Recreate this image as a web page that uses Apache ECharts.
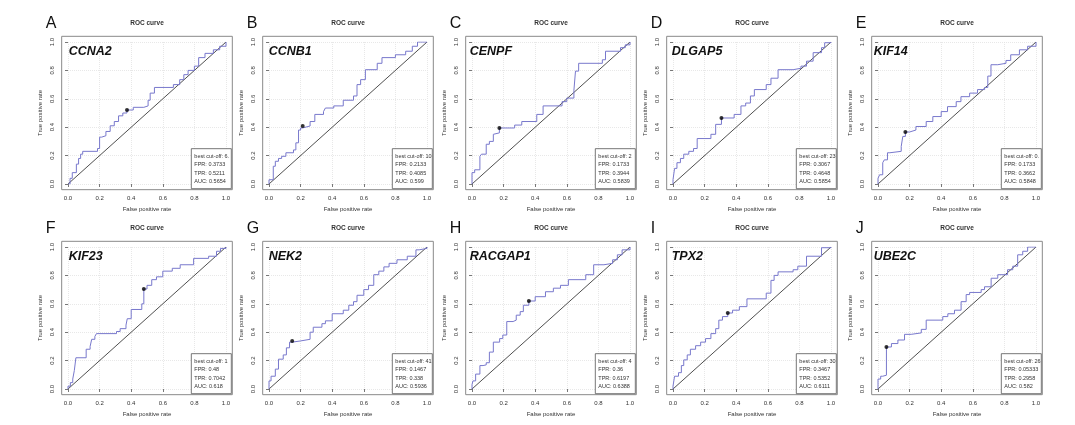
<!DOCTYPE html>
<html><head><meta charset="utf-8">
<script src="https://cdn.jsdelivr.net/npm/echarts@6/dist/echarts.min.js"></script>
<style>html,body{margin:0;padding:0;background:#fff}#c{width:1075px;height:425px}</style>
</head><body><div id="c"></div><script>
// ---------- data ----------
const panelLetters = ['A','B','C','D','E','F','G','H','I','J'];
const genes = ['CCNA2','CCNB1','CENPF','DLGAP5','KIF14','KIF23','NEK2','RACGAP1','TPX2','UBE2C'];
const cutoffLabels = ['6.4','10','2','23','0.9','1','41','4','30','26'];
const bestFPR = [0.3733,0.2133,0.1733,0.3067,0.1733,0.48,0.1467,0.36,0.3467,0.05333];
const bestTPR = [0.5211,0.4085,0.3944,0.4648,0.3662,0.7042,0.338,0.6197,0.5352,0.2958];
const aucValues = [0.5654,0.599,0.5839,0.5854,0.5848,0.618,0.5936,0.6388,0.6111,0.582];
const tickValues = [0,0.2,0.4,0.6,0.8,1.0];
const diagonal = [0,1];

const CCNA2_fpr = [0,0.013,0.027,0.053,0.067,0.08,0.093,0.187,0.2,0.213,0.24,0.267,0.293,0.32,0.347,0.3733,0.413,0.48,0.507,0.52,0.547,0.667,0.707,0.733,0.76,0.8,0.827,0.867,0.92,0.96,1.0];
const CCNA2_tpr = [0,0.04,0.08,0.14,0.18,0.21,0.23,0.25,0.33,0.34,0.37,0.41,0.44,0.48,0.5,0.5211,0.54,0.55,0.59,0.64,0.68,0.70,0.735,0.77,0.80,0.83,0.89,0.92,0.945,0.97,1.0];

const CCNB1_fpr = [0,0,0.027,0.04,0.06,0.08,0.107,0.155,0.17,0.187,0.2,0.2133,0.26,0.29,0.345,0.357,0.41,0.47,0.535,0.557,0.58,0.61,0.685,0.715,0.8,0.865,0.907,0.94,1.0];
const CCNB1_tpr = [0,0.03,0.125,0.16,0.18,0.195,0.22,0.24,0.29,0.38,0.395,0.4085,0.44,0.49,0.51,0.535,0.55,0.59,0.62,0.70,0.735,0.805,0.85,0.89,0.91,0.935,0.97,1.0,1.0];

const CENPF_fpr = [0,0,0.017,0.05,0.06,0.09,0.11,0.135,0.145,0.1733,0.27,0.315,0.41,0.45,0.57,0.6,0.645,0.655,0.675,0.825,0.845,0.94,0.97,1.0];
const CENPF_tpr = [0,0.08,0.1,0.195,0.21,0.28,0.30,0.35,0.36,0.3944,0.415,0.44,0.49,0.55,0.58,0.605,0.66,0.795,0.85,0.875,0.935,0.96,0.98,1.0];

const DLGAP5_fpr = [0,0,0.01,0.025,0.047,0.068,0.1,0.13,0.153,0.24,0.27,0.3067,0.387,0.43,0.46,0.49,0.515,0.59,0.62,0.665,0.76,0.81,0.845,0.887,0.94,0.96,1.0];
const DLGAP5_tpr = [0,0.03,0.11,0.15,0.18,0.21,0.23,0.25,0.32,0.35,0.42,0.4648,0.49,0.55,0.57,0.62,0.665,0.70,0.745,0.805,0.815,0.83,0.865,0.925,0.96,0.995,1.0];

const KIF14_fpr = [0,0,0.01,0.03,0.04,0.06,0.075,0.147,0.157,0.1733,0.2,0.24,0.305,0.347,0.4,0.44,0.495,0.525,0.58,0.63,0.675,0.695,0.715,0.758,0.81,0.84,0.895,0.947,1.0];
const KIF14_tpr = [0,0.04,0.065,0.15,0.17,0.22,0.23,0.265,0.335,0.3662,0.38,0.405,0.44,0.475,0.51,0.545,0.58,0.615,0.64,0.665,0.68,0.76,0.84,0.85,0.87,0.91,0.945,0.97,1.0];

const KIF23_fpr = [0,0,0.015,0.03,0.04,0.05,0.115,0.14,0.15,0.17,0.18,0.307,0.33,0.367,0.375,0.4,0.467,0.48,0.5,0.53,0.56,0.6,0.66,0.71,0.795,0.89,0.94,0.965,1.0];
const KIF23_tpr = [0,0.02,0.045,0.07,0.13,0.22,0.28,0.30,0.35,0.37,0.39,0.405,0.425,0.45,0.495,0.56,0.60,0.7042,0.73,0.77,0.79,0.83,0.85,0.875,0.92,0.935,0.97,0.99,1.0];

const NEK2_fpr = [0,0,0.013,0.04,0.06,0.09,0.11,0.13,0.1467,0.197,0.26,0.28,0.335,0.357,0.4,0.47,0.505,0.535,0.557,0.6,0.63,0.663,0.695,0.727,0.76,0.81,0.875,0.93,0.95,1.0];
const NEK2_tpr = [0,0.057,0.09,0.14,0.21,0.24,0.29,0.33,0.338,0.35,0.40,0.435,0.46,0.48,0.53,0.555,0.59,0.615,0.66,0.70,0.73,0.805,0.83,0.86,0.885,0.91,0.935,0.98,0.99,1.0];

const RACGAP1_fpr = [0,0,0.006,0.023,0.05,0.07,0.09,0.11,0.135,0.175,0.195,0.22,0.26,0.28,0.305,0.325,0.36,0.4,0.465,0.515,0.56,0.61,0.72,0.77,0.835,0.89,0.92,0.95,1.0];
const RACGAP1_tpr = [0,0.03,0.057,0.105,0.165,0.17,0.185,0.26,0.33,0.355,0.38,0.475,0.485,0.52,0.545,0.59,0.6197,0.65,0.685,0.71,0.73,0.77,0.805,0.875,0.885,0.91,0.945,0.98,1.0];

const TPX2_fpr = [0,0,0.01,0.035,0.053,0.068,0.09,0.11,0.143,0.175,0.206,0.24,0.27,0.29,0.313,0.3467,0.377,0.42,0.468,0.59,0.62,0.64,0.665,0.76,0.79,0.845,0.94,1.0];
const TPX2_tpr = [0,0.02,0.09,0.115,0.165,0.205,0.24,0.28,0.305,0.33,0.355,0.39,0.425,0.485,0.51,0.5352,0.555,0.58,0.635,0.675,0.765,0.80,0.825,0.84,0.865,0.935,0.995,1.0];

const UBE2C_fpr = [0,0,0.017,0.03,0.05333,0.085,0.126,0.168,0.21,0.274,0.305,0.41,0.442,0.484,0.526,0.558,0.58,0.653,0.674,0.716,0.758,0.82,0.853,0.884,0.916,0.947,1.0];
const UBE2C_tpr = [0,0.07,0.09,0.097,0.2958,0.32,0.345,0.385,0.395,0.42,0.485,0.51,0.53,0.555,0.615,0.665,0.68,0.70,0.72,0.78,0.805,0.84,0.865,0.945,0.97,1.0,1.0];

const curveFPR = [CCNA2_fpr,CCNB1_fpr,CENPF_fpr,DLGAP5_fpr,KIF14_fpr,KIF23_fpr,NEK2_fpr,RACGAP1_fpr,TPX2_fpr,UBE2C_fpr];
const curveTPR = [CCNA2_tpr,CCNB1_tpr,CENPF_tpr,DLGAP5_tpr,KIF14_tpr,KIF23_tpr,NEK2_tpr,RACGAP1_tpr,TPX2_tpr,UBE2C_tpr];

// ---------- layout ----------
const colLeft = [68, 269, 472, 673, 878];
const rowTop = [42, 247];
const DW = 158, DH = 142;
const padX = DW * 0.04, padY = DH * 0.04;
const geneOffset = [7, 6, 4, 5, 2];
const FONT = 'Liberation Sans, Arial, sans-serif';
const curveColor = '#7878cc';

const grids = [], xAxes = [], yAxes = [], series = [], graphics = [];
for (let i = 0; i < 10; i++) {
  const r = Math.floor(i / 5), c = i % 5;
  const L = colLeft[c], T = rowTop[r];
  grids.push({left: L, top: T, width: DW, height: DH, show: false});
  const axisCommon = {
    min: 0, max: 1, interval: 0.2, gridIndex: i,
    axisLine: {show: false},
    axisTick: {show: true, inside: false, length: 3, lineStyle: {color: '#555', width: 0.8}},
    axisLabel: {fontSize: 6, color: '#333', fontFamily: FONT, margin: 6, formatter: v => v.toFixed(1)},
    splitLine: {show: true, lineStyle: {color: '#e2e2e2', type: [1, 1], width: 0.8}},
    nameLocation: 'middle',
    nameTextStyle: {fontSize: 6, color: '#333', fontFamily: FONT}
  };
  xAxes.push(Object.assign({}, axisCommon, {type: 'value', position: 'bottom', offset: padY, name: 'False positive rate', nameGap: 17}));
  yAxes.push(Object.assign({}, axisCommon, {type: 'value', position: 'left', offset: padX, name: 'True positive rate', nameGap: 18,
    axisLabel: Object.assign({}, axisCommon.axisLabel, {rotate: 90, margin: 6})}));

  const pts = curveFPR[i].map((x, k) => [x, curveTPR[i][k]]);
  series.push({type: 'line', xAxisIndex: i, yAxisIndex: i, data: [[diagonal[0], diagonal[0]], [diagonal[1], diagonal[1]]],
    symbol: 'none', silent: true, lineStyle: {color: '#222', width: 0.8}, z: 2});
  series.push({type: 'line', xAxisIndex: i, yAxisIndex: i, data: pts, step: 'end', symbol: 'none',
    lineStyle: {color: curveColor, width: 1}, z: 3});
  series.push({type: 'scatter', xAxisIndex: i, yAxisIndex: i, data: [[bestFPR[i], bestTPR[i]]], symbolSize: 4,
    itemStyle: {color: '#000'}, z: 4});

  // frame
  const fL = L - padX, fT = T - padY, fW = DW + 2 * padX, fH = DH + 2 * padY;
  graphics.push({type: 'rect', shape: {x: fL, y: fT, width: fW, height: fH}, style: {fill: 'none', stroke: '#8a8a8a', lineWidth: 1}, z: 10});
  // title
  graphics.push({type: 'text', x: fL + fW / 2, y: fT - 13, style: {text: 'ROC curve', font: 'bold 6.5px ' + FONT, fill: '#333', align: 'center', verticalAlign: 'middle'}});
  // panel letter
  graphics.push({type: 'text', x: fL - 16, y: fT - 13, style: {text: panelLetters[i], font: '16px ' + FONT, fill: '#111', align: 'left', verticalAlign: 'middle'}});
  // gene label
  graphics.push({type: 'text', x: fL + geneOffset[c], y: fT + 15, style: {text: genes[i], font: 'italic bold 12.5px ' + FONT, fill: '#111', align: 'left', verticalAlign: 'middle'}, z: 11});
  // legend box
  const bW = 40, bH = 40;
  const bL = fL + fW - 1 - bW, bT = fT + fH - 1 - bH;
  graphics.push({type: 'rect', shape: {x: bL, y: bT, width: bW, height: bH}, style: {fill: '#fff', stroke: '#555', lineWidth: 0.8}, z: 11});
  const lines = ['best cut-off: ' + cutoffLabels[i], 'FPR: ' + String(bestFPR[i]), 'TPR: ' + String(bestTPR[i]), 'AUC: ' + String(aucValues[i])];
  const offs = [8, 16.3, 24.6, 33];
  lines.forEach((t, k) => {
    graphics.push({type: 'text', x: bL + 3, y: bT + offs[k], z: 12,
      style: {text: t, font: '5.5px ' + FONT, fill: '#333', align: 'left', verticalAlign: 'middle', width: bW - 2.5, overflow: 'truncate', ellipsis: ''}});
  });
}

const chart = echarts.init(document.getElementById('c'), null, {renderer: 'canvas'});
chart.setOption({
  animation: false,
  backgroundColor: '#fff',
  grid: grids, xAxis: xAxes, yAxis: yAxes, series: series,
  graphic: {elements: graphics}
});
</script></body></html>
